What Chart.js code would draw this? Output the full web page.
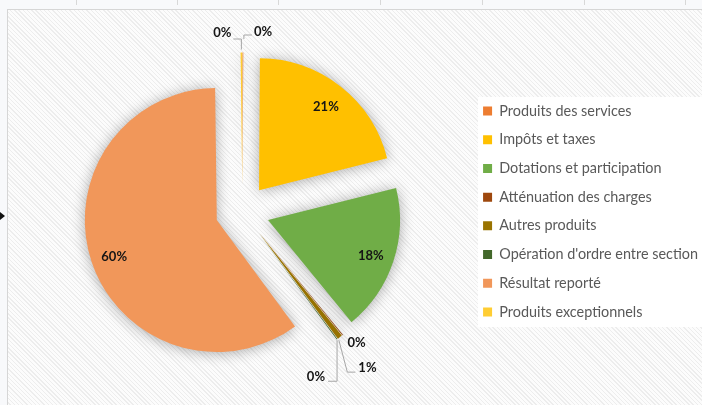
<!DOCTYPE html>
<html>
<head>
<meta charset="utf-8">
<script src="https://cdn.jsdelivr.net/npm/chart.js@4.4.1/dist/chart.umd.min.js"></script>
<style>
  html, body { margin: 0; padding: 0; }
  body { width: 702px; height: 405px; background: #f8f9fb; position: relative; overflow: hidden; }
  #frame {
    position: absolute; left: 7px; top: 9px; width: 695px; height: 396px;
    border-left: 1px solid #d6d6d6; border-top: 1px solid #d6d6d6;
    background: repeating-linear-gradient(45deg, #fcfcfc 0px, #fcfcfc 2px, #ededed 2px, #ededed 3px);
  }
  #legendBg { position: absolute; left: 478px; top: 97px; width: 224px; height: 230px; background: #fff; }
  .tick { position: absolute; top: 0; width: 1px; height: 5px; background: #d8d8d8; }
  #marker { position: absolute; left: 0; top: 212px; width: 0; height: 0;
    border-top: 4px solid transparent; border-bottom: 4px solid transparent; border-left: 5px solid #111; }
  canvas { position: absolute; left: 0; top: 0; }
</style>
</head>
<body>
<div class="tick" style="left:76px"></div>
<div class="tick" style="left:177px"></div>
<div class="tick" style="left:278px"></div>
<div class="tick" style="left:380px"></div>
<div class="tick" style="left:482px"></div>
<div class="tick" style="left:584px"></div>
<div class="tick" style="left:685px"></div>
<div id="frame"></div>
<div id="legendBg"></div>
<div id="marker"></div>
<canvas id="pie" width="702" height="405"></canvas>
<script>
const categories = ['Produits des services', 'Impôts et taxes', 'Dotations et participation',
  'Atténuation des charges', 'Autres produits', "Opération d'ordre entre section",
  'Résultat reporté', 'Produits exceptionnels'];
const shares = [0.1, 21.0, 18.0, 0.1, 0.6, 0.1, 59.9, 0.2];
const sliceColors = ['#ED7D31', '#FFC000', '#70AD47', '#9E480E', '#997300', '#43682B', '#F1975A', '#FFCD33'];

const EXPLODE = 27; // how far every slice is pulled out

// callouts for the tiny slices: offsets from the slice's outer tip
const callouts = {
  0: { line: [[1, -13.5], [1, -17.5], [9, -17.5]], text: [11, -21], align: 'left' },
  7: { line: [[0, -3], [0, -13.5], [-8, -13.5]], text: [-10, -19.5], align: 'right' },
  3: { line: null, text: [5, 8], align: 'left' },
  4: { line: [[-1, 3], [7.5, 35], [15.5, 35]], text: [18.5, 31], align: 'left' },
  5: { line: [[0, 1], [0, 42], [-9, 42]], text: [-12, 38], align: 'right' }
};

// draw the slices ourselves, shifted out along their bisector, with a soft shadow
const explode = {
  id: 'explode',
  beforeDatasetDraw(chart, args) {
    const ctx = chart.ctx;
    ctx.save();
    ctx.shadowColor = 'rgba(0,0,0,0.33)';
    ctx.shadowBlur = 14;
    ctx.shadowOffsetY = 1;
    args.meta.data.forEach(arc => {
      const mid = (arc.startAngle + arc.endAngle) / 2;
      ctx.save();
      ctx.translate(Math.cos(mid) * EXPLODE, Math.sin(mid) * EXPLODE);
      arc.draw(ctx, chart.chartArea);
      ctx.restore();
    });
    ctx.restore();
    return false;
  }
};

const pctLabels = {
  id: 'pctLabels',
  afterDatasetsDraw(chart) {
    const ctx = chart.ctx;
    const meta = chart.getDatasetMeta(0);
    const total = shares.reduce((a, b) => a + b, 0);
    ctx.save();
    ctx.font = 'bold 13px Lato';
    ctx.fillStyle = '#151515';
    ctx.textBaseline = 'middle';
    meta.data.forEach((arc, i) => {
      const p = arc.getProps(['x', 'y', 'startAngle', 'endAngle', 'outerRadius'], true);
      const mid = (p.startAngle + p.endAngle) / 2;
      const cx = p.x + Math.cos(mid) * EXPLODE;
      const cy = p.y + Math.sin(mid) * EXPLODE;
      const txt = Math.round(shares[i] / total * 100) + '%';
      const c = callouts[i];
      if (!c) {
        ctx.textAlign = 'center';
        ctx.fillText(txt, cx + Math.cos(mid) * p.outerRadius * 0.82, cy + Math.sin(mid) * p.outerRadius * 0.82 + 2);
        return;
      }
      const tx = cx + Math.cos(mid) * p.outerRadius;
      const ty = cy + Math.sin(mid) * p.outerRadius;
      if (c.line) {
        ctx.beginPath();
        ctx.strokeStyle = '#a6a6a6';
        ctx.lineWidth = 1;
        c.line.forEach((pt, k) => {
          if (k === 0) ctx.moveTo(tx + pt[0], ty + pt[1]);
          else ctx.lineTo(tx + pt[0], ty + pt[1]);
        });
        ctx.stroke();
      }
      ctx.textAlign = c.align;
      ctx.fillText(txt, tx + c.text[0], ty + c.text[1]);
    });
    ctx.restore();
  }
};

new Chart(document.getElementById('pie'), {
  type: 'pie',
  data: {
    labels: categories,
    datasets: [{
      data: shares,
      backgroundColor: sliceColors,
      borderWidth: 0,
      radius: 132
    }]
  },
  options: {
    responsive: false,
    animation: false,
    events: [],
    radius: 132,
    layout: { padding: { left: 16, right: -6, top: 18, bottom: 0 } },
    plugins: {
      legend: {
        position: 'right',
        labels: {
          boxWidth: 9,
          boxHeight: 9,
          padding: 14.3,
          color: '#595959',
          font: { family: 'Lato', size: 14.4 }
        }
      },
      tooltip: { enabled: false }
    }
  },
  plugins: [explode, pctLabels]
});
</script>
</body>
</html>
